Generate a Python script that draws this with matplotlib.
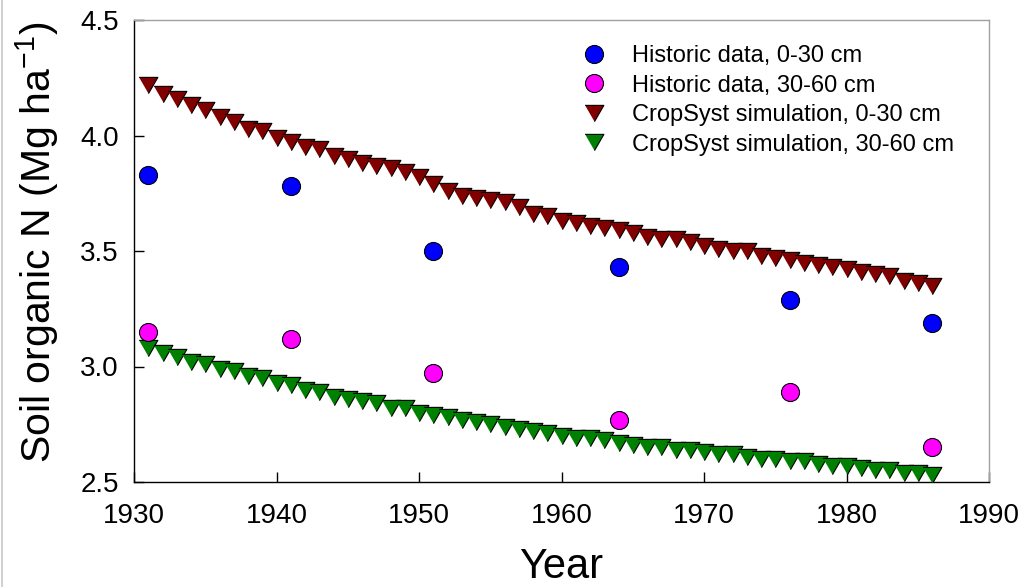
import numpy as np
import matplotlib
matplotlib.use("Agg")
import matplotlib.pyplot as plt
from matplotlib.lines import Line2D

plt.rcParams['font.family'] = ['Liberation Sans', 'DejaVu Sans']
plt.rcParams['mathtext.default'] = 'regular'

# ---- data ----
hist_years = [1931, 1941, 1951, 1964, 1976, 1986]
hist_0_30 = [3.83, 3.78, 3.50, 3.43, 3.29, 3.19]
hist_30_60 = [3.15, 3.12, 2.97, 2.77, 2.89, 2.65]

sim_years = list(range(1931, 1987))
sim_0_30 = [4.22, 4.18, 4.16, 4.13, 4.11, 4.08, 4.06, 4.03, 4.02, 3.99,
            3.97, 3.95, 3.94, 3.91, 3.90, 3.88, 3.87, 3.86, 3.84, 3.82,
            3.79, 3.76, 3.74, 3.73, 3.72, 3.71, 3.69, 3.66, 3.65, 3.63,
            3.62, 3.61, 3.60, 3.59, 3.58, 3.56, 3.55, 3.55, 3.54, 3.52,
            3.51, 3.50, 3.50, 3.48, 3.47, 3.46, 3.45, 3.44, 3.43, 3.42,
            3.41, 3.40, 3.39, 3.37, 3.36, 3.35]
sim_30_60 = [3.08, 3.06, 3.04, 3.02, 3.01, 2.99, 2.98, 2.96, 2.95, 2.93,
             2.92, 2.90, 2.89, 2.87, 2.86, 2.85, 2.84, 2.82, 2.82, 2.80,
             2.79, 2.78, 2.77, 2.76, 2.75, 2.74, 2.73, 2.72, 2.71, 2.70,
             2.69, 2.69, 2.68, 2.67, 2.66, 2.65, 2.65, 2.64, 2.64, 2.63,
             2.62, 2.62, 2.61, 2.60, 2.60, 2.59, 2.59, 2.58, 2.57, 2.57,
             2.56, 2.55, 2.55, 2.54, 2.54, 2.53]

labels = ["Historic data, 0-30 cm", "Historic data, 30-60 cm",
          "CropSyst simulation, 0-30 cm", "CropSyst simulation, 30-60 cm"]
x_ticks = [1930, 1940, 1950, 1960, 1970, 1980, 1990]
y_ticks = [2.5, 3.0, 3.5, 4.0, 4.5]

# ---- figure ----
fig = plt.figure(figsize=(10.22, 5.87), dpi=100)
ax = fig.add_axes([134/1022, 105/587, (989-134)/1022, (482-20)/587])

tri = [(-1.0, 0.866), (1.0, 0.866), (0.0, -0.866)]
ms_c = 13
ms_t = 13.5
mew = 0.8

ax.plot(hist_years, hist_0_30, linestyle='none', marker='o', ms=ms_c,
        mfc='#0000ff', mec='black', mew=mew, label=labels[0], zorder=4)
ax.plot(hist_years, hist_30_60, linestyle='none', marker='o', ms=ms_c,
        mfc='#ff00ff', mec='black', mew=mew, label=labels[1], zorder=4)
ax.plot(sim_years, sim_0_30, linestyle='none', marker=tri, ms=ms_t,
        mfc='#800000', mec='black', mew=mew, label=labels[2], zorder=3)
ax.plot(sim_years, sim_30_60, linestyle='none', marker=tri, ms=ms_t,
        mfc='#008000', mec='black', mew=mew, label=labels[3], zorder=3)

ax.set_xlim(1930, 1990)
ax.set_ylim(2.5, 4.5)
ax.set_xticks(x_ticks)
ax.set_yticks(y_ticks)
ax.set_yticklabels([f"{v:.1f}" for v in y_ticks])
ax.tick_params(direction='in', length=7, width=1, labelsize=20,
               top=False, right=False)
ax.tick_params(axis='x', pad=15)
ax.tick_params(axis='y', pad=11)

for s in ['left', 'bottom']:
    ax.spines[s].set_color('black')
    ax.spines[s].set_linewidth(1.0)
for s in ['top', 'right']:
    ax.spines[s].set_color('#a0a0a0')
    ax.spines[s].set_linewidth(1.0)

ax.set_xlabel("Year", fontsize=30, labelpad=13)
ax.set_ylabel("Soil organic N (Mg ha$^{-1}$)", fontsize=29.5, labelpad=14)
ax.yaxis.label.set_y(0.518)

leg = ax.legend(loc='upper left', bbox_to_anchor=(582/1022, (587-45)/587),
                bbox_transform=fig.transFigure, frameon=False, fontsize=17,
                handlelength=1.0, handletextpad=1.1, labelspacing=0.32,
                borderpad=0, borderaxespad=0)

# thin grey border at the left edge of the image
fig.add_artist(Line2D([1.5/1022, 1.5/1022], [0, 1], transform=fig.transFigure,
                      color='#c8c8c8', lw=1.2))

fig.savefig("out.png", dpi=100)
